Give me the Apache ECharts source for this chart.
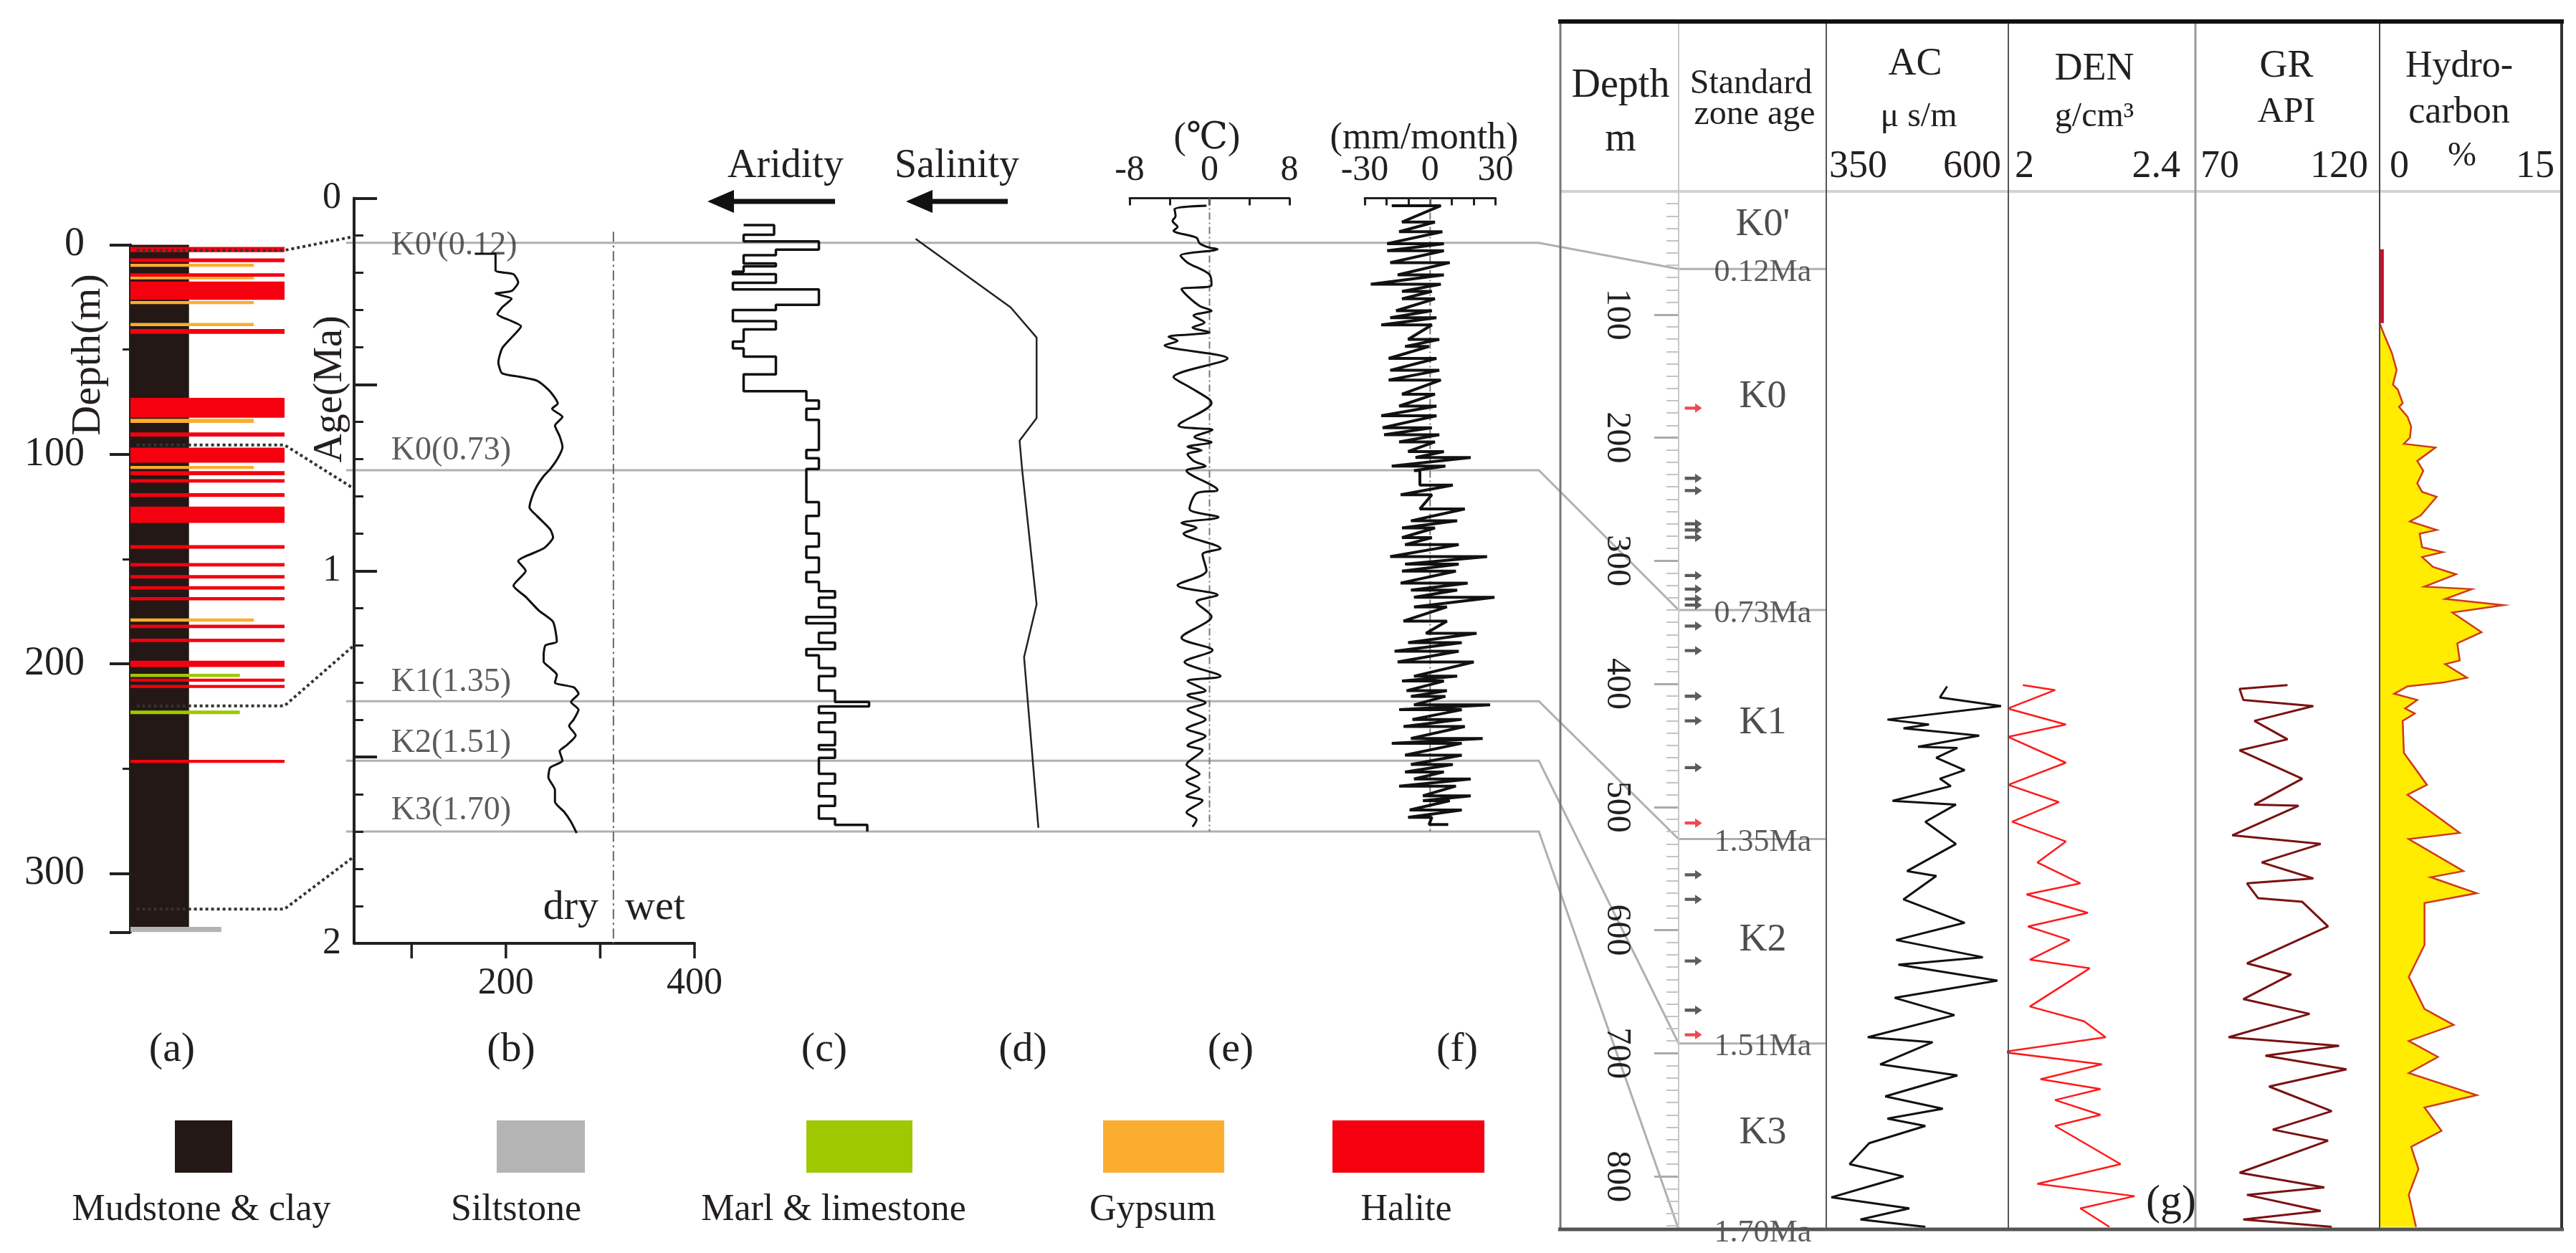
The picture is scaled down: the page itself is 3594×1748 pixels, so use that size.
<!DOCTYPE html>
<html>
<head>
<meta charset="utf-8">
<script src="https://cdn.jsdelivr.net/npm/echarts@6/dist/echarts.min.js"></script>
<style>
  html, body { margin: 0; padding: 0; background: #fff; }
  #chart { width: 3594px; height: 1748px; }
</style>
</head>
<body>
<div id="chart"></div>
<script>
// ---- (a) lithology column, depth in m ----
const lithTypes = ['Mudstone & clay', 'Siltstone', 'Marl & limestone', 'Gypsum', 'Halite'];
const lithColors = ['#231815', '#b4b4b4', '#9fc800', '#fbad30', '#f5000f'];
const lithTop  = [0, 1, 6.5, 9, 13.6, 15.2, 17.5, 26.8, 37.3, 40.2, 73, 83, 89.5, 96.8, 105.5, 108, 111.8, 118.5, 124.9, 143.3,
                  151.9, 157.6, 162.9, 168.1, 178.3, 181.3, 188, 198.5, 204.7, 207, 210, 222.3, 245.8, 325.5];
const lithBase = [325.5, 3.5, 8.3, 10.5, 15.2, 16.5, 26.2, 28.3, 38.8, 42.5, 82.5, 85, 91.5, 104, 107, 110, 113.5, 120.3, 132.7, 145,
                  153.5, 159.2, 164.5, 169.7, 179.8, 182.9, 189.6, 201.5, 206.3, 208.5, 211.5, 224, 247.2, 328];
const lithType = [0, 4, 4, 3, 4, 3, 4, 3, 3, 4, 4, 3, 4, 4, 3, 4, 4, 4, 4, 4,
                  4, 4, 4, 4, 3, 4, 4, 4, 2, 4, 4, 2, 4, 1];

// ---- (b) curve vs age (Ma) ----
const bAge = [0.149, 0.149, 0.194, 0.204, 0.226, 0.249, 0.256, 0.27, 0.293, 0.311, 0.33, 0.344, 0.374, 0.403, 0.44, 0.47, 0.48, 0.49, 0.514, 0.536,
              0.551, 0.565, 0.587, 0.61, 0.639, 0.668, 0.698, 0.727, 0.746, 0.772, 0.80, 0.83, 0.853, 0.889, 0.91, 0.94, 0.974, 1.0, 1.04, 1.07,
              1.107, 1.137, 1.19, 1.20, 1.227, 1.244, 1.261, 1.279, 1.30, 1.313, 1.33, 1.352, 1.373, 1.399, 1.416, 1.442, 1.467, 1.484, 1.51, 1.528,
              1.554, 1.588, 1.62, 1.648, 1.674, 1.704];
const bVal = [167, 189, 189, 208, 213, 206, 189, 206, 196, 191, 206, 216, 206, 196, 192, 196, 216, 233, 245, 252,
              255, 249, 260, 252, 257, 260, 255, 247, 240, 233, 228, 225, 233, 247, 250, 240, 213, 221, 208, 221,
              235, 250, 254, 242, 240, 240, 247, 254, 252, 272, 277, 269, 277, 272, 267, 274, 265, 257, 260, 247,
              245, 252, 252, 262, 269, 275];
const bTicks = [100, 200, 300, 400];
const bTickLabels = [200, 400];
const dryWetValue = 314;
const dryWetFrom = 0.09;

// boundaries
const kNames = ["K0'", 'K0', 'K1', 'K2', 'K3'];
const kAge = [0.12, 0.73, 1.35, 1.51, 1.70];
const kLabelAge = [0.128, 0.678, 1.30, 1.463, 1.644];
const kDepth = [63, 340, 526, 692, 843];

// ties lithology depth -> age axis
const tieDepth = [2.6, 95.5, 220, 317];
const tieAge = [0.103, 0.78, 1.2, 1.767];

// ---- (c) aridity steps ----
const aridityAge = [0.072, 0.072, 0.098, 0.116, 0.138, 0.153, 0.175, 0.183, 0.197, 0.204, 0.227, 0.245, 0.286, 0.30, 0.33, 0.352, 0.385, 0.403, 0.425, 0.473,
                    0.518, 0.543, 0.565, 0.595, 0.676, 0.698, 0.727, 0.816, 0.853, 0.90, 0.935, 0.965, 1.004, 1.03, 1.055, 1.072, 1.098, 1.124, 1.141, 1.167,
                    1.193, 1.21, 1.227, 1.261, 1.283, 1.322, 1.352, 1.364, 1.382, 1.407, 1.433, 1.468, 1.48, 1.502, 1.545, 1.571, 1.605, 1.631, 1.665, 1.682];
const aridityVal = [1.5, 3.2, 1.5, 5.7, 3.3, 1.5, 3.3, 1.5, 0.9, 3.3, 0.9, 5.7, 3.3, 0.9, 3.3, 1.5, 0.9, 1.5, 3.3, 1.5,
                    5.0, 5.7, 5.0, 5.7, 5.0, 5.7, 5.0, 5.7, 5.0, 5.7, 5.0, 5.7, 5.0, 5.7, 6.6, 5.7, 6.6, 5.0, 6.6, 5.7,
                    6.6, 5.0, 5.7, 6.6, 5.7, 6.6, 8.5, 5.7, 6.6, 5.7, 6.6, 5.7, 6.6, 5.7, 6.6, 5.7, 6.6, 5.7, 6.6, 8.4];
const aridityEnd = 1.70;

// ---- (d) salinity ----
const salAge = [0.109, 0.293, 0.374, 0.59, 0.651, 0.732, 1.09, 1.232, 1.69];
const salVal = [1.1, 6.4, 7.85, 7.85, 6.9, 7.05, 7.85, 7.15, 7.95];

// ---- (e) temperature anomaly ----
const tempAge = [0.020, 0.029, 0.048, 0.061, 0.077, 0.087, 0.106, 0.121, 0.132, 0.137, 0.154, 0.173, 0.205, 0.234, 0.244, 0.263, 0.289, 0.302, 0.315, 0.334,
                 0.347, 0.36, 0.372, 0.383, 0.395, 0.43, 0.48, 0.507, 0.54, 0.55, 0.61, 0.622, 0.641, 0.655, 0.667, 0.677, 0.687, 0.705, 0.719, 0.731,
                 0.783, 0.792, 0.834, 0.856, 0.872, 0.885, 0.90, 0.94, 0.956, 1.0, 1.039, 1.065, 1.084, 1.123, 1.18, 1.213, 1.245, 1.283, 1.296, 1.322,
                 1.334, 1.354, 1.373, 1.399, 1.424, 1.444, 1.469, 1.482, 1.52, 1.546, 1.565, 1.585, 1.604, 1.617, 1.649, 1.668, 1.687];
const tempVal = [-0.3, -3.5, -3.4, -3.7, -3.2, -3.6, -1.3, -1.0, -0.1, 0.8, -2.9, -2.2, 0.0, 0.2, -2.8, -2.2, -1.0, 0.2, -1.6, -0.5,
                 -1.7, 0.0, -4.1, -3.2, -4.5, 1.8, -3.6, -2.0, 0.0, 0.2, -3.1, 0.3, -1.5, 0.2, -2.2, -0.8, -2.2, -1.6, -0.4, -2.3,
                 0.8, -1.3, -2.0, 0.9, -2.8, -1.3, -2.6, 1.1, -0.7, -0.3, -3.2, 0.8, -1.3, 0.2, -2.8, 0.3, -2.5, 1.1, -2.2, -0.4,
                 -2.2, -0.4, -2.2, -0.4, -2.3, -0.4, -2.2, -0.7, -2.3, -1.0, -2.3, -1.0, -2.3, -0.7, -2.3, -1.3, -1.7];

// ---- (f) precipitation anomaly ----
const precipAge = [0.020, 0.064, 0.090, 0.122, 0.141, 0.173, 0.206, 0.231, 0.250, 0.270, 0.302, 0.321, 0.340, 0.379, 0.398, 0.43, 0.462, 0.488, 0.526, 0.558,
                   0.584, 0.616, 0.635, 0.654, 0.68, 0.696, 0.719, 0.731, 0.770, 0.796, 0.834, 0.866, 0.885, 0.911, 0.93, 0.962, 0.982, 1.001, 1.033, 1.052,
                   1.071, 1.097, 1.135, 1.168, 1.193, 1.216, 1.245, 1.283, 1.296, 1.322, 1.337, 1.36, 1.373, 1.399, 1.418, 1.45, 1.463, 1.495, 1.52, 1.54,
                   1.559, 1.578, 1.604, 1.617, 1.642, 1.662, 1.681];
const precipLow = [-17.6, -12.9, -14.2, -19.7, -19.7, -18.3, -14.9, -27.2, -12.9, -12.9, -15.6, -18.3, -22.4, -10.1, -11.5, -19.0, -18.3, -19.0, -12.9, -14.2,
                   -22.4, -21.8, -21.1, -14.2, -10.1, -6.7, -17.6, -7.4, -4.7, -13.5, -4.7, -8.8, -12.9, -12.9, -11.5, -18.3, -11.5, -12.9, -13.5, -8.8,
                   -7.4, -7.4, -12.2, -1.9, -10.1, -16.3, -14.9, -7.4, -12.9, -10.8, -8.8, -7.4, -14.2, -8.1, -12.2, -8.8, -17.6, -11.5, -8.8, -11.5,
                   -7.4, -14.2, -3.3, -3.3, -9.4, -10.1, -0.5];
const precipHigh = [4.9, 2.2, 5.6, 6.3, 6.3, 9.0, 6.3, 4.9, 0.8, 2.2, 0.8, 2.9, 0.8, 4.2, -0.5, 2.9, 4.2, 4.9, 2.2, 2.9,
                    2.9, 0.8, 4.2, 2.2, 6.3, 18.6, 7.0, -4.7, 10.4, 0.8, 15.9, 12.4, 2.2, 0.8, 13.1, 26.1, 13.1, 11.8, 17.2, 12.4,
                    29.5, 7.7, 7.7, 21.3, 14.5, 13.1, 20.0, 12.4, 6.3, 7.7, 7.0, 27.5, 14.5, 14.5, 15.9, 24.1, 14.5, 14.5, 10.4, 6.3,
                    18.6, 11.8, 18.6, 9.0, 14.5, 0.8, 8.3];

// ---- (g) well logs vs depth (m) ----
const acRange = [350, 600], denRange = [2, 2.4], grRange = [70, 120], hcRange = [0, 15];
const acDepth = [402, 411, 418, 429, 433, 436, 442, 451, 452, 460, 470, 477, 483, 495, 498, 512, 530, 552, 556, 575,
                 594, 608, 622, 628, 641, 655, 669, 687, 691, 709, 718, 735, 745, 753, 759, 773, 790, 800, 806, 817, 826, 835, 841];
const acVal = [516, 506, 590, 434, 491, 456, 560, 476, 530, 501, 540, 506, 521, 441, 528, 486, 528, 461, 501, 456,
               540, 446, 565, 449, 585, 444, 526, 407, 496, 424, 530, 431, 510, 434, 486, 409, 382, 456, 421, 357, 464, 397, 486];
const denDepth = [401, 405, 420, 433, 443, 464, 482, 496, 512, 528, 545, 562, 571, 586, 597, 608, 624, 631, 662, 674,
                  687, 699, 709, 721, 729, 738, 750, 759, 790, 806, 816, 826, 841];
const denVal = [2.031, 2.100, 1.999, 2.123, 1.999, 2.123, 2.0, 2.108, 2.008, 2.123, 2.062, 2.154, 2.039, 2.17, 2.042, 2.131, 2.046, 2.174, 2.046, 2.162,
                2.208, 1.988, 2.2, 2.069, 2.197, 2.1, 2.197, 2.1, 2.24, 2.062, 2.27, 2.154, 2.216];
const grDepth = [401, 404, 413, 418, 430, 445, 454, 477, 498, 499, 523, 530, 545, 558, 562, 574, 577, 597, 627, 636,
                 656, 668, 687, 694, 702, 713, 727, 747, 762, 771, 797, 809, 815, 828, 835, 841];
const grVal = [95, 82, 83, 102, 86, 95, 82, 99, 86, 98, 80, 104, 88, 102, 84, 87, 99, 106, 84, 96,
               83, 101, 79, 109, 89, 111, 90, 107, 91, 106, 82, 105, 84, 104, 83, 107];
const hcDepth = [107, 117, 131, 145, 157, 161, 172, 175, 183, 191, 200, 205, 208, 219, 227, 237, 244, 248, 255, 263,
                 268, 275, 278, 289, 293, 297, 305, 311, 321, 323, 331, 336, 342, 358, 367, 381, 384, 395, 399, 402,
                 408, 413, 420, 424, 430, 456, 482, 490, 521, 526, 552, 557, 570, 578, 612, 638, 664, 677, 690, 703,
                 716, 734, 744, 763, 776, 794, 815, 841];
const hcVal = [0, 0.4, 1.0, 1.4, 1.1, 1.5, 1.9, 1.6, 2.3, 2.6, 2.5, 2.0, 4.6, 3.1, 3.6, 3.1, 3.5, 4.7, 4.1, 3.4,
               2.5, 4.7, 3.3, 3.5, 5.2, 3.5, 4.4, 6.3, 3.7, 7.6, 5.4, 10.2, 6.0, 8.4, 6.4, 6.6, 5.4, 7.2, 5.2, 2.3,
               1.2, 3.1, 2.1, 2.9, 1.9, 2.0, 3.9, 2.3, 6.6, 2.4, 6.9, 4.2, 8.0, 3.7, 3.7, 2.4, 3.7, 6.1, 2.4, 4.8,
               2.4, 8.0, 3.7, 5.1, 2.6, 3.2, 2.4, 3.0];
const hcTopDepth = [47, 107];
const hcTopVal = [0.2, 0.2];
const arrowsBlack = [233, 243, 270, 275, 281, 312, 323, 331, 336, 353, 373, 410, 430, 468, 555, 575, 625, 665];
const arrowsRed = [176, 513, 685];
const zoneMidDepth = [27, 167, 432, 608, 765];

// ---- style ----
const FONT = '"Liberation Serif", "Times New Roman", "DejaVu Serif", serif';
const INK = '#231f20';
const lithLength = [38, 59, 71, 80, 100]; // bar length per lithology, % of column width

const chart = echarts.init(document.getElementById('chart'));

const ageTop = 276.5, ageH = 1039.5;
const depthTop = 267, depthH = 1448;
const grids = [
  { left: 182, top: 341.6, width: 215, height: 958.7 },
  { left: 494, top: ageTop, width: 475, height: ageH },
  { left: 1000, top: ageTop, width: 250, height: ageH },
  { left: 1250, top: ageTop, width: 250, height: ageH },
  { left: 1576, top: ageTop, width: 223, height: ageH },
  { left: 1904, top: ageTop, width: 182.6, height: ageH },
  { left: 2177, top: depthTop, width: 165, height: depthH },
  { left: 2342, top: depthTop, width: 206, height: depthH },
  { left: 2548, top: depthTop, width: 254, height: depthH },
  { left: 2802, top: depthTop, width: 261, height: depthH },
  { left: 3063, top: depthTop, width: 257, height: depthH },
  { left: 3320, top: depthTop, width: 254, height: depthH }
].map(g => Object.assign({ outerBoundsMode: 'none', containLabel: false }, g));

const hidden = (gi, min, max, extra) => Object.assign({ gridIndex: gi, type: 'value', min, max, show: false }, extra || {});
const line = { show: true, onZero: false, lineStyle: { color: INK, width: 4 } };
const hundreds = v => (v % 100 === 0 && v > 0 ? String(v) : (v === 0 ? '0' : ''));

const xAxes = [
  hidden(0, 0, 100),
  {
    gridIndex: 1, type: 'value', position: 'bottom', min: 39, max: 400,
    axisLine: line,
    axisTick: { show: false },
    axisLabel: { customValues: bTickLabels, fontSize: 52, color: INK, margin: 30, fontFamily: FONT },
    splitLine: { show: false }
  },
  hidden(2, 0, 10),
  hidden(3, 0, 10),
  {
    gridIndex: 4, type: 'value', position: 'top', min: -8, max: 8, interval: 4,
    axisLine: { show: true, onZero: false, lineStyle: { color: INK, width: 3 } },
    axisTick: { show: true, inside: true, length: 10, lineStyle: { color: INK, width: 3 } },
    axisLabel: { formatter: v => (v % 8 === 0 ? String(v) : ''), fontSize: 50, color: INK, margin: 14, fontFamily: FONT },
    splitLine: { show: false }
  },
  {
    gridIndex: 5, type: 'value', position: 'top', min: -30, max: 30, interval: 10,
    axisLine: { show: true, onZero: false, lineStyle: { color: INK, width: 3 } },
    axisTick: { show: true, inside: true, length: 10, lineStyle: { color: INK, width: 3 } },
    axisLabel: { formatter: v => (v % 30 === 0 ? String(v) : ''), fontSize: 50, color: INK, margin: 14, fontFamily: FONT },
    splitLine: { show: false }
  },
  hidden(6, 0, 1),
  hidden(7, 0, 1),
  hidden(8, acRange[0], acRange[1]),
  hidden(9, denRange[0], denRange[1]),
  hidden(10, grRange[0], grRange[1]),
  hidden(11, hcRange[0], hcRange[1])
];

const yAxes = [
  {
    gridIndex: 0, type: 'value', inverse: true, min: 0, max: 328, interval: 100,
    axisLine: line,
    axisTick: { show: true, length: 29, lineStyle: { color: INK, width: 4 } },
    minorTick: { show: true, splitNumber: 2, length: 11, lineStyle: { color: INK, width: 3 } },
    axisLabel: { formatter: hundreds, fontSize: 56, color: INK, margin: 64, fontFamily: FONT },
    splitLine: { show: false }, minorSplitLine: { show: false }
  },
  {
    gridIndex: 1, type: 'value', inverse: true, min: 0, max: 2, interval: 0.5,
    axisLine: line,
    axisTick: { show: true, inside: true, length: 32, lineStyle: { color: INK, width: 4 } },
    minorTick: { show: true, splitNumber: 5, length: 13, lineStyle: { color: INK, width: 3 } },
    axisLabel: { formatter: v => (Number.isInteger(v) ? String(v) : ''), fontSize: 52, color: INK, margin: 18, fontFamily: FONT },
    splitLine: { show: false }, minorSplitLine: { show: false }
  },
  hidden(2, 0, 2, { inverse: true }),
  hidden(3, 0, 2, { inverse: true }),
  hidden(4, 0, 2, { inverse: true }),
  hidden(5, 0, 2, { inverse: true }),
  {
    gridIndex: 6, type: 'value', position: 'right', inverse: true, min: 0, max: 843, interval: 100,
    axisLine: { show: true, onZero: false, lineStyle: { color: '#c4c4c4', width: 2 } },
    axisTick: { show: true, inside: true, length: 34, lineStyle: { color: '#aaa', width: 3 } },
    minorTick: { show: true, splitNumber: 10, length: 17, lineStyle: { color: '#c4c4c4', width: 2 } },
    axisLabel: { inside: true, rotate: -90, formatter: v => (v % 100 === 0 && v > 0 ? String(v) : ''), fontSize: 48, color: INK, margin: 62, fontFamily: FONT },
    splitLine: { show: false }, minorSplitLine: { show: false }
  },
  hidden(7, 0, 843, { inverse: true }),
  hidden(8, 0, 843, { inverse: true }),
  hidden(9, 0, 843, { inverse: true }),
  hidden(10, 0, 843, { inverse: true }),
  hidden(11, 0, 843, { inverse: true })
];

// step line for aridity
const aridPts = [];
aridityAge.forEach((a, i) => {
  const next = i + 1 < aridityAge.length ? aridityAge[i + 1] : aridityEnd;
  aridPts.push([aridityVal[i], a], [aridityVal[i], next]);
});
// precipitation: each sampled swing drawn low -> high
const precipPts = [];
precipAge.forEach((a, i) => {
  precipPts.push([precipLow[i], a], [precipHigh[i], a]);
});

const plain = (gi, data, color, width, extra) => Object.assign({
  type: 'line', xAxisIndex: gi, yAxisIndex: gi, data, symbol: 'none', silent: true,
  lineStyle: { color, width }
}, extra || {});

const labelDot = { symbol: 'circle', symbolSize: 1, itemStyle: { color: 'rgba(0,0,0,0)' } };
const arrowPath = 'path://M0,4 L12,4 L12,0 L20,6 L12,12 L12,8 L0,8 Z';

const series = [
  {
    type: 'custom', xAxisIndex: 0, yAxisIndex: 0,
    data: lithTop.map((t, i) => [t, lithBase[i], lithType[i]]),
    encode: { y: [0, 1] },
    renderItem: (params, api) => {
      const type = api.value(2);
      const p0 = api.coord([0, api.value(0)]);
      const p1 = api.coord([lithLength[type], api.value(1)]);
      return { type: 'rect', shape: { x: p0[0], y: p0[1], width: p1[0] - p0[0], height: Math.max(p1[1] - p0[1], 3) },
               style: { fill: lithColors[type] } };
    }
  },
  {
    // bottom axis ticks of (b), pointing down
    type: 'custom', xAxisIndex: 1, yAxisIndex: 1, silent: true, clip: false,
    data: bTicks.map(v => [v, 2]),
    renderItem: (params, api) => {
      const c = api.coord([api.value(0), 2]);
      return { type: 'line', shape: { x1: c[0], y1: c[1], x2: c[0], y2: c[1] + 21 }, style: { stroke: INK, lineWidth: 3.5 } };
    }
  },
  plain(1, bAge.map((a, i) => [bVal[i], a]), '#111', 3, { smooth: 0.2 }),
  plain(1, [[dryWetValue, dryWetFrom], [dryWetValue, 2]], '#666', 2, { lineStyle: { color: '#666', width: 2, type: [14, 5, 3, 5] } }),
  Object.assign({
    type: 'scatter', xAxisIndex: 1, yAxisIndex: 1, silent: true,
    data: kLabelAge.map((a, i) => ({ value: [78, a], name: kNames[i] + '(' + kAge[i].toFixed(2) + ')' })),
    label: { show: true, position: 'right', distance: 0, formatter: '{b}', fontSize: 46, color: '#333', fontFamily: FONT }
  }, labelDot),
  plain(2, aridPts, '#111', 3.5),
  plain(3, salAge.map((a, i) => [salVal[i], a]), '#222', 2.5),
  plain(4, [[0, 0], [0, 1.70]], '#777', 2, { lineStyle: { color: '#777', width: 2, type: [10, 4, 2, 4] } }),
  plain(4, tempAge.map((a, i) => [tempVal[i], a]), '#111', 3, { smooth: 0.3 }),
  plain(5, [[0, 0], [0, 1.70]], '#777', 2, { lineStyle: { color: '#777', width: 2, type: [10, 4, 2, 4] } }),
  plain(5, precipPts, '#111', 4),
  {
    type: 'scatter', xAxisIndex: 7, yAxisIndex: 7, silent: true,
    data: arrowsBlack.map(d => [0.1, d]), symbol: arrowPath, symbolSize: [24, 13], itemStyle: { color: '#333' }
  },
  {
    type: 'scatter', xAxisIndex: 7, yAxisIndex: 7, silent: true,
    data: arrowsRed.map(d => [0.1, d]), symbol: arrowPath, symbolSize: [24, 13], itemStyle: { color: '#ee1c25' }
  },
  Object.assign({
    type: 'scatter', xAxisIndex: 7, yAxisIndex: 7, silent: true,
    data: zoneMidDepth.map((d, i) => ({ value: [0.57, d], name: kNames[i] })),
    label: { show: true, position: 'inside', formatter: '{b}', fontSize: 54, color: INK, fontFamily: FONT }
  }, labelDot),
  Object.assign({
    type: 'scatter', xAxisIndex: 7, yAxisIndex: 7, silent: true,
    data: kDepth.map((d, i) => ({ value: [0.57, d], name: kAge[i].toFixed(2) + 'Ma' })),
    label: { show: true, position: 'inside', offset: [0, 5], formatter: '{b}', fontSize: 44, color: '#333', fontFamily: FONT }
  }, labelDot),
  plain(8, acDepth.map((d, i) => [acVal[i], d]), '#111', 3),
  plain(9, denDepth.map((d, i) => [denVal[i], d]), '#ff1a1a', 2.5),
  plain(10, grDepth.map((d, i) => [grVal[i], d]), '#7a1212', 3),
  {
    type: 'custom', xAxisIndex: 11, yAxisIndex: 11, silent: true,
    data: [[0, 0]],
    renderItem: (params, api) => {
      const pts = hcDepth.map((d, i) => api.coord([hcVal[i], d]));
      const b0 = api.coord([0, hcDepth[0]]);
      const b1 = api.coord([0, hcDepth[hcDepth.length - 1]]);
      return { type: 'group', children: [
        { type: 'polygon', shape: { points: [b0].concat(pts, [b1]) }, style: { fill: '#ffec00' } },
        { type: 'polyline', shape: { points: pts }, style: { stroke: '#cf3a1a', lineWidth: 2.5, fill: null } }
      ] };
    }
  },
  plain(11, hcTopDepth.map((d, i) => [hcTopVal[i], d]), '#c8102e', 5)
];

chart.setOption({
  backgroundColor: '#fff',
  animation: false,
  textStyle: { fontFamily: FONT },
  grid: grids,
  xAxis: xAxes,
  yAxis: yAxes,
  series: series
});

// ---- overlay: connectors, headers, legend ----
const px = (gi, v) => chart.convertToPixel({ gridIndex: gi }, v);
const text = (str, x, y, size, opts) => Object.assign({
  type: 'text', x, y, silent: true, z: 10,
  style: Object.assign({ text: str, fontSize: size, fontFamily: FONT, fill: INK,
    align: 'center', verticalAlign: 'middle', textAlign: 'center', textVerticalAlign: 'middle' }, (opts && opts.style) || {})
}, opts && opts.rotation ? { rotation: opts.rotation } : {});
const seg = (x1, y1, x2, y2, color, width, z) => ({
  type: 'line', silent: true, z: z === undefined ? 10 : z,
  shape: { x1, y1, x2, y2 }, style: { stroke: color, lineWidth: width }
});

const graphics = [];

kAge.forEach((a, i) => {
  const yB = px(1, [39, a])[1];
  const yG = px(7, [0, kDepth[i]])[1];
  graphics.push({ type: 'polyline', silent: true, z: 0,
    shape: { points: [[483, yB], [2147, yB], [2342, yG], [2548, yG]] },
    style: { stroke: '#b0b0b0', lineWidth: 3, fill: null } });
});
tieDepth.forEach((d, i) => {
  const a0 = px(0, [4, d]), a1 = px(0, [100, d]), b = px(1, [39, tieAge[i]]);
  graphics.push({ type: 'polyline', silent: true, z: 10,
    shape: { points: [a0, a1, b] },
    style: { stroke: '#333', lineWidth: 4, lineDash: [4, 4], fill: null } });
});

graphics.push(
  text('Depth(m)', 124, 495, 58, { rotation: Math.PI / 2 }),
  text('Age(Ma)', 461, 543, 56, { rotation: Math.PI / 2 }),
  text('dry', 835, 1267, 58, { style: { align: 'right', textAlign: 'right' } }),
  text('wet', 872, 1267, 58, { style: { align: 'left', textAlign: 'left' } }),
  text('Aridity', 1096, 232, 56),
  text('Salinity', 1335, 232, 56),
  text('(℃)', 1684, 193, 52),
  text('(mm/month)', 1987, 193, 52),
  seg(1165, 281, 1012, 281, '#111', 7),
  { type: 'polygon', silent: true, z: 10, shape: { points: [[987, 281], [1024, 265], [1024, 297]] }, style: { fill: '#111' } },
  seg(1406, 281, 1289, 281, '#111', 7),
  { type: 'polygon', silent: true, z: 10, shape: { points: [[1264, 281], [1301, 265], [1301, 297]] }, style: { fill: '#111' } }
);

// panel letters
[['(a)', 240], ['(b)', 713], ['(c)', 1150], ['(d)', 1427], ['(e)', 1717], ['(f)', 2033]].forEach(p => {
  graphics.push(text(p[0], p[1], 1465, 58));
});
graphics.push(text('(g)', 3029, 1678, 60));

// frame of (g)
graphics.push(
  seg(2177, 267, 3574, 267, '#d2d2d2', 4, 9),
  seg(2342, 30, 2342, 1715, '#c8c8c8', 2, 9),
  seg(2548, 30, 2548, 1715, '#555', 2, 9),
  seg(2802, 30, 2802, 1715, '#555', 2, 9),
  seg(3063, 30, 3063, 1715, '#999', 3, 9),
  seg(3320, 30, 3320, 1715, '#444', 2, 9),
  seg(2177, 30, 2177, 1715, '#777', 3),
  seg(3574, 30, 3574, 1715, '#333', 4),
  seg(2174, 30, 3577, 30, '#111', 6),
  seg(2174, 1715, 3577, 1715, '#555', 5)
);

// headers of (g)
const L = { style: { align: 'left', textAlign: 'left' } };
const R = { style: { align: 'right', textAlign: 'right' } };
graphics.push(
  text('Depth', 2261, 120, 56), text('m', 2261, 195, 56),
  text('Standard', 2443, 117, 48), text('zone age', 2448, 160, 48),
  text('AC', 2672, 90, 54), text('μ s/m', 2677, 163, 48),
  text(String(acRange[0]), 2552, 233, 54, L), text(String(acRange[1]), 2792, 233, 54, R),
  text('DEN', 2922, 97, 54), text('g/cm³', 2922, 163, 48),
  text(String(denRange[0]), 2811, 233, 54, L), text(String(denRange[1]), 3042, 233, 54, R),
  text('GR', 3190, 93, 54), text('API', 3190, 157, 50),
  text(String(grRange[0]), 3070, 233, 54, L), text(String(grRange[1]), 3304, 233, 54, R),
  text('Hydro-', 3431, 93, 52), text('carbon', 3431, 157, 52), text('%', 3435, 218, 48),
  text(String(hcRange[0]), 3334, 233, 54, L), text(String(hcRange[1]), 3564, 233, 54, R)
);

// legend
const legendBox = [[244, 80], [693, 123], [1125, 148], [1539, 169], [1859, 212]];
const legendText = [281, 720, 1163, 1608, 1962];
lithTypes.forEach((name, i) => {
  graphics.push({ type: 'rect', silent: true, z: 10,
    shape: { x: legendBox[i][0], y: 1563, width: legendBox[i][1], height: 73 },
    style: { fill: lithColors[i] } });
  graphics.push(text(name, legendText[i], 1688, 52));
});

chart.setOption({ graphic: graphics });
</script>
</body>
</html>
